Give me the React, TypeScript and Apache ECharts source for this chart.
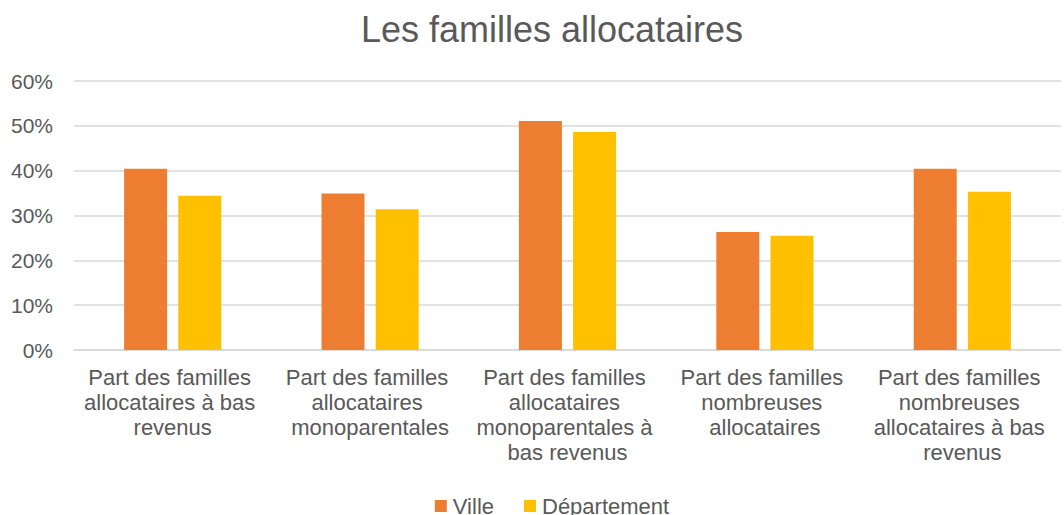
import React, { useEffect, useRef } from "react";
import * as echarts from "echarts";

const categories = [
  "Part des familles allocataires à bas revenus",
  "Part des familles allocataires monoparentales",
  "Part des familles allocataires monoparentales à bas revenus",
  "Part des familles nombreuses allocataires",
  "Part des familles nombreuses allocataires à bas revenus",
];
const villeValues = [0.404, 0.349, 0.511, 0.263, 0.404];
const departementValues = [0.344, 0.314, 0.486, 0.255, 0.353];
const seriesNames = ["Ville", "Département"];
const titleText = "Les familles allocataires";

export default function App() {
  const ref = useRef<HTMLDivElement>(null);
  useEffect(() => {
    if (!ref.current) return;
    const chart = echarts.init(ref.current, undefined, { renderer: "svg" });
    const font = "Liberation Sans, Arial, sans-serif";
    chart.setOption({
      animation: false,
      backgroundColor: "#ffffff",
      title: {
        text: titleText,
        left: "center",
        top: 6,
        textStyle: { fontFamily: font, fontSize: 36, fontWeight: "normal", color: "#595959" },
      },
      legend: {
        data: seriesNames,
        left: "center",
        top: 490,
        itemWidth: 12,
        itemHeight: 12,
        itemGap: 30,
        icon: "rect",
        textStyle: { fontFamily: font, fontSize: 22, color: "#595959", padding: [0, 0, 0, 1] },
      },
      grid: { left: 74, top: 81, width: 987, height: 269, containLabel: false },
      xAxis: {
        type: "category",
        data: categories,
        axisLine: { show: true, lineStyle: { color: "#d9d9d9", width: 1.5 } },
        axisTick: { show: false },
        axisLabel: {
          interval: 0,
          margin: 15,
          width: 196,
          overflow: "break",
          lineHeight: 25,
          fontFamily: font,
          fontSize: 22,
          color: "#595959",
        },
      },
      yAxis: {
        type: "value",
        min: 0,
        max: 0.6,
        interval: 0.1,
        axisLine: { show: false },
        axisTick: { show: false },
        splitLine: { lineStyle: { color: "#d9d9d9", width: 1.5 } },
        axisLabel: {
          margin: 21,
          fontFamily: font,
          fontSize: 21,
          color: "#595959",
          formatter: (v: number) => `${Math.round(v * 100)}%`,
        },
      },
      series: [
        {
          name: seriesNames[0],
          type: "bar",
          data: villeValues,
          barWidth: 43,
          barGap: "26%",
          itemStyle: { color: "#ED7D31" },
        },
        {
          name: seriesNames[1],
          type: "bar",
          data: departementValues,
          barWidth: 43,
          itemStyle: { color: "#FFC000" },
        },
      ],
    });
    return () => chart.dispose();
  }, []);
  return (
    <div
      style={{
        position: "fixed",
        left: 0,
        top: 0,
        width: 1064,
        height: 515,
        overflow: "hidden",
        background: "#fff",
      }}
    >
      <div ref={ref} style={{ width: 1104, height: 515 }} />
    </div>
  );
}
